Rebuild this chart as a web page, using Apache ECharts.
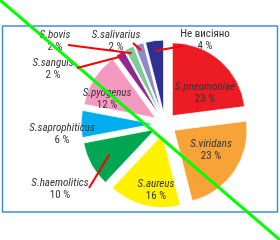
<!DOCTYPE html>
<html>
<head>
<meta charset="utf-8">
<script src="https://cdn.jsdelivr.net/npm/echarts@6/dist/echarts.min.js"></script>
<style>
html,body{margin:0;padding:0;background:#fff;}
#chart{width:280px;height:240px;}
</style>
</head>
<body>
<div id="chart"></div>
<script>
// ---- data ----
const categories = ['S.pneumoniae','S.viridans','S.aureus','S.haemolitics','S.saprophiticus','S.pyogenus','S.sanguis','S.bovis','S.salivarius','Не висіяно'];
const percents = [23, 23, 16, 10, 6, 12, 2, 2, 2, 4];
const percentLabels = ['23 %','23 %','16 %','10 %','6 %','12 %','2 %','2 %','2 %','4 %'];
const sliceColors = ['#ED1C24','#F8A338','#FFF200','#00A651','#00AEEF','#F49AC1','#92278F','#7CCB9B','#8E8BC5','#2E3192'];

// ---- layout (positions / styles) ----
const CX = 165, CY = 124, R = 73, OFF = 11;
const labelPos = [[205,93],[211,150],[156,190],[60,189],[62,134],[107,99],[53,69],[55,41],[116,41],[205,40]];
const leaderSpec = [null, null, null, [0.72,[89,188]], null, null, [0.95,[77,68]], [0.92,[68,45]], [0.91,[133,43]], [0.86,[183,46]]];

const total = percents.reduce((a,b)=>a+b,0);
function leaderStart(idx, depth){
  let cum = 0;
  for (let i=0;i<idx;i++) cum += percents[i];
  const mid = (cum + percents[idx]/2) / total * 2*Math.PI;
  const dx = Math.sin(mid), dy = -Math.cos(mid);
  const ax = CX + OFF*dx, ay = CY + OFF*dy;
  return [ax + depth*R*dx, ay + depth*R*dy];
}

const sliceData = categories.map((name,i)=>({
  name: name,
  value: percents[i],
  selected: true,
  itemStyle: {color: sliceColors[i]}
}));

const labelData = categories.map((name,i)=>({
  name: name,
  value: percents[i],
  label: {
    formatter: (name.indexOf('S.') === 0 ? '{n|' : '{u|') + name + '}\n{p|' + percentLabels[i] + '}'
  }
}));

const leaderEls = [];
for (let i = 0; i < categories.length; i++) {
  const spec = leaderSpec[i];
  if (!spec) continue;
  const s = leaderStart(i, spec[0]);
  leaderEls.push({
    type: 'line',
    shape: {x1: s[0], y1: s[1], x2: spec[1][0], y2: spec[1][1]},
    style: {stroke: '#ff0000', lineWidth: 2},
    z: 100
  });
}

const chart = echarts.init(document.getElementById('chart'), null, {renderer:'canvas'});
const FONT = '"Liberation Sans Narrow","Roboto Condensed","DejaVu Sans Condensed",Roboto,sans-serif';
chart.setOption({
  animation: false,
  backgroundColor: '#fff',
  graphic: {
    elements: [{
      type: 'rect',
      shape: {x: 2.5, y: 26, width: 275, height: 186},
      style: {fill: 'none', stroke: '#3F8FD8', lineWidth: 1.5}
    }, {
      type: 'line',
      shape: {x1: 0, y1: 0, x2: 280, y2: 240},
      style: {stroke: '#00ff00', lineWidth: 3},
      z: 100
    }].concat(leaderEls)
  },
  series: [{
    type: 'pie',
    center: [CX, CY],
    radius: R,
    startAngle: 90,
    clockwise: true,
    selectedMode: 'multiple',
    selectedOffset: OFF,
    emphasis: {disabled: true, scale: false},
    itemStyle: {borderColor: '#fff', borderWidth: 0.8},
    label: {show: false},
    labelLine: {show: false},
    data: sliceData,
    z: 2
  }, {
    type: 'pie',
    center: [CX, CY],
    radius: R,
    startAngle: 90,
    clockwise: true,
    silent: true,
    avoidLabelOverlap: false,
    emphasis: {disabled: true, scale: false},
    itemStyle: {color: 'rgba(0,0,0,0)', borderWidth: 0},
    label: {
      show: true,
      position: 'outside',
      color: '#333',
      lineHeight: 12,
      align: 'center',
      rich: {
        n: {fontFamily: FONT, fontStyle: 'italic', fontSize: 11, color: '#333', lineHeight: 12, align: 'center'},
        u: {fontFamily: FONT, fontSize: 11, color: '#333', lineHeight: 12, align: 'center'},
        p: {fontFamily: FONT, fontSize: 11, color: '#333', lineHeight: 12, align: 'center'}
      }
    },
    labelLine: {show: false},
    labelLayout: function(params){
      const p = labelPos[params.dataIndex];
      return {x: p[0], y: p[1], align: 'center', verticalAlign: 'middle', hideOverlap: false, moveOverlap: false};
    },
    data: labelData,
    z: 3
  }]
});
</script>
</body>
</html>
